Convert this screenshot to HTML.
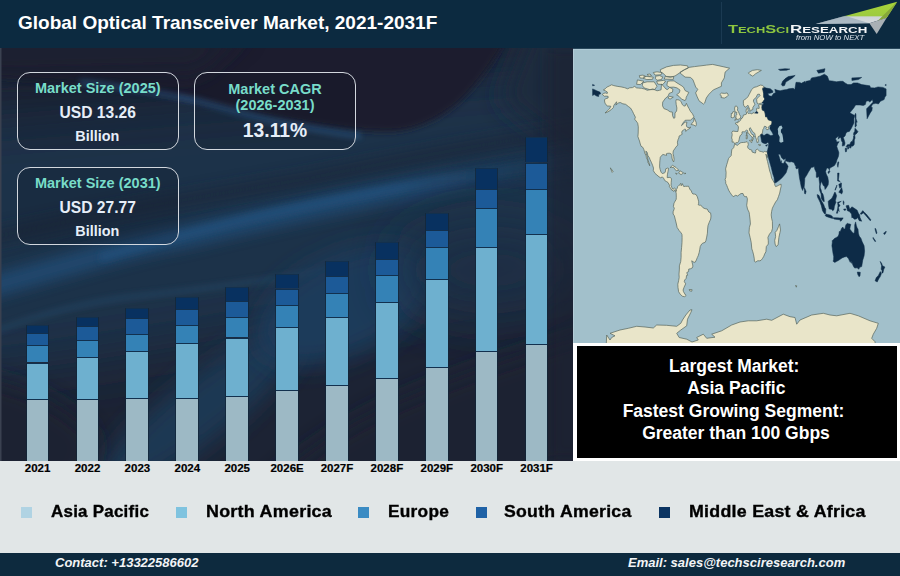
<!DOCTYPE html>
<html><head><meta charset="utf-8">
<style>
*{margin:0;padding:0;box-sizing:border-box}
html,body{width:900px;height:576px;overflow:hidden;background:#e1e6e7;font-family:"Liberation Sans",sans-serif}
#hdr{position:absolute;left:0;top:0;width:900px;height:48px;background:#0c2a40}
#title{position:absolute;left:18px;top:11.5px;font-size:19px;font-weight:bold;color:#fff;white-space:nowrap;letter-spacing:0}
#chart{position:absolute;left:0;top:48px;width:573px;height:413px;overflow:hidden}
.seg{position:absolute;width:21.8px;border-top:1px solid #12304e;box-shadow:-0.8px 0 0 rgba(18,38,58,0.9),0.8px 0 0 rgba(18,38,58,0.9)}
.seg.mea{background:#083160}
.seg.sa{background:#1c5a98}
.seg.eu{background:#3482b6}
.seg.na{background:#6eb0cf}
.seg.ap{background:#9db9c5}
.yr{position:absolute;top:461px;width:60px;text-align:center;font-size:11.5px;font-weight:bold;color:#000;line-height:14px;-webkit-text-stroke:0.2px #000}
.box{position:absolute;border:1.8px solid #d2d7de;border-radius:13px;background:rgba(18,22,36,0.22);text-align:center}
.box .t{color:#78dcc9;font-weight:bold;font-size:14.5px;position:absolute;left:0;right:0;white-space:nowrap}
.box .v{color:#e6eef8;font-weight:bold;font-size:15.6px;position:absolute;left:0;right:0;white-space:nowrap}
#map{position:absolute;left:573px;top:48px;width:327px;height:295px;background:#a2c0cb;overflow:hidden}
#info{position:absolute;left:573px;top:343px;width:327px;height:118px;background:#fff}
#infoin{position:absolute;left:4px;top:3px;width:320px;height:112px;background:#000;color:#fff;text-align:center;font-weight:bold;font-size:17.5px}
#infoin div{position:absolute;left:0;right:0;white-space:nowrap}
#leg{position:absolute;left:0;top:461px;width:900px;height:92px;background:#e1e6e7}
.sq{position:absolute;top:506.5px;width:11.2px;height:11.2px}
.lt{position:absolute;top:501.5px;font-size:16.6px;letter-spacing:0.25px;-webkit-text-stroke:0.35px #000;transform-origin:0 0;font-weight:bold;color:#000;white-space:nowrap;line-height:20px}
#ftr{position:absolute;left:0;top:553px;width:900px;height:23px;background:#0d2a3e}
.ft{position:absolute;top:555px;font-size:13px;font-weight:bold;font-style:italic;color:#f2f4f6;white-space:nowrap;line-height:16px}
</style></head><body>
<div id="hdr"><div id="title">Global Optical Transceiver Market, 2021-2031F</div></div>
<div id="leg"></div>
<div id="ftr"></div>
<div class="ft" style="left:55px">Contact: +13322586602</div>
<div class="ft" style="left:628px">Email: sales@techsciresearch.com</div>
<div id="chart"><svg width="573" height="413" viewBox="0 48 573 413" style="position:absolute;left:0;top:0">
<defs>
<filter id="b30" x="-50%" y="-50%" width="200%" height="200%"><feGaussianBlur stdDeviation="28"/></filter>
<filter id="b15" x="-50%" y="-50%" width="200%" height="200%"><feGaussianBlur stdDeviation="12"/></filter>
<filter id="b8" x="-50%" y="-50%" width="200%" height="200%"><feGaussianBlur stdDeviation="7"/></filter>
<filter id="b4" x="-50%" y="-50%" width="200%" height="200%"><feGaussianBlur stdDeviation="3"/></filter>
</defs>
<rect x="0" y="48" width="573" height="413" fill="#1c2334"/>
<!-- medium blue broad middle -->
<path d="M-60,120 L640,60 L640,260 C420,300 200,350 -60,380 Z" fill="#1d3149" filter="url(#b30)"/>
<!-- top dark wave -->
<path d="M-60,0 L528,0 C508,40 485,78 461,101 C440,120 415,131 390,132 C365,132 345,129 330,127 C260,118 200,100 150,94 C90,84 30,78 -60,76 Z" fill="#1b1f2d" filter="url(#b4)"/>
<path d="M-60,30 L250,30 L200,75 L-60,80 Z" fill="#1d2232" opacity="0.7" filter="url(#b15)"/>
<path d="M540,0 L640,0 L640,200 C600,180 540,130 500,100 Z" fill="#1c2a3c" filter="url(#b15)"/>
<!-- streak along wave boundary -->
<path d="M80,82 C130,88 170,95 198,101 C230,110 280,126 360,136" fill="none" stroke="#3069a0" stroke-width="3.5" opacity="0.95" filter="url(#b4)"/>
<!-- bright band -->
<linearGradient id="fadeR" x1="0" y1="0" x2="573" y2="0" gradientUnits="userSpaceOnUse"><stop offset="0" stop-color="#21507a"/><stop offset="0.7" stop-color="#21507a"/><stop offset="1" stop-color="#1d3048"/></linearGradient>
<path d="M-60,300 C40,275 110,250 180,238 C260,220 400,185 640,150" fill="none" stroke="url(#fadeR)" stroke-width="22" opacity="0.75" filter="url(#b8)"/>
<path d="M100,258 C140,246 180,236 230,223 C300,206 400,185 640,150" fill="none" stroke="url(#fadeR)" stroke-width="8" opacity="0.8" filter="url(#b4)"/>
<!-- lower thin arc -->
<path d="M-10,333 C30,318 80,303 130,297 C200,290 260,282 330,270" fill="none" stroke="#285070" stroke-width="4" opacity="0.6" filter="url(#b4)"/>
<!-- dark band between -->
<path d="M-60,250 C40,225 150,205 300,180 C400,160 500,140 640,120" fill="none" stroke="#1b2638" stroke-width="14" opacity="0.6" filter="url(#b8)"/>
<!-- lower light patch -->
<ellipse cx="200" cy="410" rx="130" ry="32" transform="rotate(-38 200 410)" fill="#1e3752" filter="url(#b15)"/>
<ellipse cx="345" cy="305" rx="95" ry="50" transform="rotate(-25 345 305)" fill="#1e3b5a" filter="url(#b15)"/>
<ellipse cx="490" cy="270" rx="90" ry="45" fill="#1d2e44" filter="url(#b30)"/>
<!-- bottom dark -->
<path d="M-60,520 L-60,370 C20,380 60,400 90,430 C110,470 60,520 -60,520 Z" fill="#1b2030" filter="url(#b15)"/>
<path d="M230,520 C280,470 330,430 400,400 C470,370 560,340 640,320 L640,520 Z" fill="#1b2030" filter="url(#b15)"/>
<!-- right edge dark -->
<rect x="548" y="48" width="60" height="413" fill="#1b2030" opacity="0.6" filter="url(#b8)"/>
<rect x="0" y="48" width="1.5" height="413" fill="#3a4150"/>
</svg>
</div>
<div class="seg mea" style="left:26.60px;top:324.7px;height:7.9px"></div>
<div class="seg sa" style="left:26.60px;top:332.6px;height:12.5px"></div>
<div class="seg eu" style="left:26.60px;top:345.1px;height:17.4px"></div>
<div class="seg na" style="left:26.60px;top:362.5px;height:36.6px"></div>
<div class="seg ap" style="left:26.60px;top:399.1px;height:61.9px"></div>
<div class="yr" style="left:7.6px">2021</div>
<div class="seg mea" style="left:76.50px;top:317.4px;height:8.3px"></div>
<div class="seg sa" style="left:76.50px;top:325.7px;height:14.6px"></div>
<div class="seg eu" style="left:76.50px;top:340.3px;height:16.9px"></div>
<div class="seg na" style="left:76.50px;top:357.2px;height:41.9px"></div>
<div class="seg ap" style="left:76.50px;top:399.1px;height:61.9px"></div>
<div class="yr" style="left:57.5px">2022</div>
<div class="seg mea" style="left:126.40px;top:308.2px;height:10.1px"></div>
<div class="seg sa" style="left:126.40px;top:318.3px;height:15.8px"></div>
<div class="seg eu" style="left:126.40px;top:334.1px;height:17.2px"></div>
<div class="seg na" style="left:126.40px;top:351.3px;height:46.5px"></div>
<div class="seg ap" style="left:126.40px;top:397.8px;height:63.2px"></div>
<div class="yr" style="left:107.4px">2023</div>
<div class="seg mea" style="left:176.30px;top:296.9px;height:12.4px"></div>
<div class="seg sa" style="left:176.30px;top:309.3px;height:15.8px"></div>
<div class="seg eu" style="left:176.30px;top:325.1px;height:18.1px"></div>
<div class="seg na" style="left:176.30px;top:343.2px;height:54.6px"></div>
<div class="seg ap" style="left:176.30px;top:397.8px;height:63.2px"></div>
<div class="yr" style="left:157.3px">2024</div>
<div class="seg mea" style="left:226.20px;top:287.2px;height:13.6px"></div>
<div class="seg sa" style="left:226.20px;top:300.8px;height:16.4px"></div>
<div class="seg eu" style="left:226.20px;top:317.2px;height:20.3px"></div>
<div class="seg na" style="left:226.20px;top:337.5px;height:58.0px"></div>
<div class="seg ap" style="left:226.20px;top:395.5px;height:65.5px"></div>
<div class="yr" style="left:207.2px">2025</div>
<div class="seg mea" style="left:276.10px;top:274.3px;height:14.2px"></div>
<div class="seg sa" style="left:276.10px;top:288.5px;height:16.8px"></div>
<div class="seg eu" style="left:276.10px;top:305.3px;height:21.5px"></div>
<div class="seg na" style="left:276.10px;top:326.8px;height:63.5px"></div>
<div class="seg ap" style="left:276.10px;top:390.3px;height:70.7px"></div>
<div class="yr" style="left:257.1px">2026E</div>
<div class="seg mea" style="left:326.00px;top:261.0px;height:15.4px"></div>
<div class="seg sa" style="left:326.00px;top:276.4px;height:16.5px"></div>
<div class="seg eu" style="left:326.00px;top:292.9px;height:24.2px"></div>
<div class="seg na" style="left:326.00px;top:317.1px;height:67.9px"></div>
<div class="seg ap" style="left:326.00px;top:385.0px;height:76.0px"></div>
<div class="yr" style="left:307.0px">2027F</div>
<div class="seg mea" style="left:375.90px;top:242.4px;height:16.2px"></div>
<div class="seg sa" style="left:375.90px;top:258.6px;height:16.6px"></div>
<div class="seg eu" style="left:375.90px;top:275.2px;height:27.1px"></div>
<div class="seg na" style="left:375.90px;top:302.3px;height:75.9px"></div>
<div class="seg ap" style="left:375.90px;top:378.2px;height:82.8px"></div>
<div class="yr" style="left:356.9px">2028F</div>
<div class="seg mea" style="left:425.80px;top:212.5px;height:17.2px"></div>
<div class="seg sa" style="left:425.80px;top:229.7px;height:17.6px"></div>
<div class="seg eu" style="left:425.80px;top:247.3px;height:32.1px"></div>
<div class="seg na" style="left:425.80px;top:279.4px;height:87.9px"></div>
<div class="seg ap" style="left:425.80px;top:367.3px;height:93.7px"></div>
<div class="yr" style="left:406.8px">2029F</div>
<div class="seg mea" style="left:475.70px;top:168.3px;height:20.3px"></div>
<div class="seg sa" style="left:475.70px;top:188.6px;height:19.8px"></div>
<div class="seg eu" style="left:475.70px;top:208.4px;height:38.9px"></div>
<div class="seg na" style="left:475.70px;top:247.3px;height:103.7px"></div>
<div class="seg ap" style="left:475.70px;top:351.0px;height:110.0px"></div>
<div class="yr" style="left:456.7px">2030F</div>
<div class="seg mea" style="left:525.60px;top:136.6px;height:25.9px"></div>
<div class="seg sa" style="left:525.60px;top:162.5px;height:26.9px"></div>
<div class="seg eu" style="left:525.60px;top:189.4px;height:44.9px"></div>
<div class="seg na" style="left:525.60px;top:234.3px;height:109.9px"></div>
<div class="seg ap" style="left:525.60px;top:344.2px;height:116.8px"></div>
<div class="yr" style="left:506.6px">2031F</div>
<div class="box" style="left:17px;top:71.5px;width:161.5px;height:78.5px">
 <div class="t" style="top:7px">Market Size (2025)</div>
 <div class="v" style="top:31.4px">USD 13.26</div>
 <div class="v" style="top:55.4px;font-size:14.4px;left:-1px">Billion</div>
</div>
<div class="box" style="left:194px;top:71.5px;width:162px;height:78px">
 <div class="t" style="top:8px">Market CAGR</div>
 <div class="t" style="top:24px">(2026-2031)</div>
 <div class="v" style="top:47.6px;font-size:19.3px">13.11%</div>
</div>
<div class="box" style="left:17px;top:166.5px;width:161.5px;height:78.5px">
 <div class="t" style="top:7px">Market Size (2031)</div>
 <div class="v" style="top:31.4px">USD 27.77</div>
 <div class="v" style="top:55.4px;font-size:14.4px;left:-1px">Billion</div>
</div>
<div id="map"><svg width="327" height="295" viewBox="0 0 327 295" style="position:absolute;left:0;top:0">
<path d="M29.3,46.4 30.6,45.4 32.2,44.9 34.3,45.4 34.4,44.1 32.6,42.9 30.4,41.9 32.2,40.8 33.9,39.1 36.7,37.8 38.5,36.8 40.8,37.6 44.1,38.3 48.1,38.9 51.4,39.6 54.7,40.8 56.7,39.8 59.5,39.6 61.6,38.4 63.6,39.9 65.7,40.1 68.5,40.3 71.8,41.1 74.2,42.3 77.5,41.6 79.9,40.9 84.0,42.8 86.5,42.3 88.1,41.8 88.5,35.9 91.3,39.1 93.0,41.1 94.6,41.6 96.6,39.4 99.9,41.1 99.5,44.1 96.2,45.4 95.0,48.3 92.6,50.1 89.7,54.1 89.5,57.8 90.9,60.6 94.2,61.8 97.1,63.8 99.3,64.0 99.5,67.5 100.7,70.3 101.9,69.8 102.0,65.0 103.6,63.0 103.9,60.0 103.2,56.6 102.9,53.3 103.2,51.6 106.4,52.0 108.1,53.8 109.3,56.6 110.7,57.8 112.1,58.1 113.4,55.3 114.6,58.0 116.0,60.5 117.4,63.3 119.5,65.8 120.9,68.8 119.5,70.5 117.4,72.2 114.2,72.2 112.1,72.3 109.7,75.3 108.5,77.7 109.3,77.0 112.1,74.0 114.0,74.3 113.4,76.3 113.5,78.2 114.2,79.2 116.6,79.8 117.4,78.8 117.4,80.0 114.6,81.7 112.7,83.4 112.5,81.2 111.7,81.2 109.1,83.0 108.7,85.0 109.3,86.2 108.1,86.9 106.0,88.2 105.9,90.0 105.2,91.2 104.4,94.2 104.8,97.0 102.8,99.2 101.9,100.6 100.3,102.9 100.0,105.6 100.7,108.4 101.1,111.4 100.7,113.9 99.7,112.7 99.0,110.1 98.8,107.6 97.9,105.7 96.2,105.2 94.2,105.4 93.4,105.7 93.6,107.4 92.6,107.2 89.9,106.4 89.1,107.1 87.3,109.2 86.9,112.6 86.7,115.9 86.6,118.9 87.1,121.3 88.0,124.1 89.3,125.6 91.3,124.9 92.2,124.3 92.6,122.1 92.7,120.9 94.6,120.1 95.6,120.4 95.0,123.4 94.4,126.8 94.2,129.6 96.2,129.4 97.6,129.6 98.5,130.9 98.2,134.3 98.1,137.6 98.7,139.3 99.9,141.3 101.5,140.1 103.2,141.6 103.3,143.0 102.8,143.5 101.5,141.8 100.7,143.5 99.9,142.6 98.7,142.1 97.5,140.0 96.4,138.8 96.5,137.3 95.0,134.5 93.4,133.5 91.8,132.6 90.5,130.1 89.3,128.9 87.7,129.8 86.0,128.8 84.0,127.1 82.0,125.4 80.3,122.6 80.5,120.1 79.6,117.3 78.3,114.2 77.1,111.7 76.3,109.6 74.9,107.6 74.1,104.2 72.8,103.1 73.2,105.9 74.4,108.4 75.0,112.6 76.3,115.6 76.7,117.8 75.9,115.9 75.0,114.6 74.9,112.6 73.4,109.6 73.2,107.9 71.9,105.4 71.3,103.1 70.8,101.4 69.7,99.2 68.0,98.2 67.0,95.0 66.5,93.0 65.4,90.0 64.9,88.5 65.2,85.0 65.3,78.8 64.7,75.2 64.4,74.7 61.7,71.2 62.4,69.2 60.4,65.3 59.5,63.3 57.5,60.0 55.5,58.6 52.6,56.3 49.8,55.8 47.3,54.5 45.3,55.0 42.8,57.1 43.8,53.8 42.0,55.5 40.8,57.5 40.4,59.5 38.3,61.6 35.9,63.3 33.9,64.3 32.0,65.0 34.3,62.8 36.3,61.1 37.9,58.3 35.9,58.0 34.3,58.1 32.4,55.8 31.7,54.1 31.5,51.6 33.0,50.6 35.1,50.0 35.1,48.3 33.0,48.1 31.5,48.3ZM103.2,141.5 104.2,140.3 104.7,138.5 105.9,137.3 106.7,137.1 107.7,135.3 108.2,136.3 108.1,137.8 109.1,136.6 109.3,135.6 110.7,138.5 112.5,138.3 114.2,138.3 115.4,138.1 116.2,139.6 116.9,141.6 118.3,142.6 118.8,144.5 119.9,146.0 121.5,146.1 123.1,146.6 124.0,148.2 124.4,149.0 125.2,151.8 125.6,153.2 125.7,155.2 125.2,156.8 126.8,157.3 127.6,157.0 130.1,159.8 132.1,160.7 134.2,161.0 135.8,164.0 137.6,164.9 138.0,168.0 137.7,171.0 136.2,174.4 135.0,177.5 134.6,181.1 134.4,185.2 133.7,189.1 132.9,192.7 132.1,194.4 129.9,195.1 128.6,196.1 127.2,198.6 126.7,201.9 126.2,204.4 125.2,207.8 124.4,209.4 123.4,211.9 122.3,214.1 121.1,214.4 119.9,213.6 118.7,212.8 119.5,216.1 119.9,218.1 119.4,219.8 117.4,220.8 115.7,221.1 115.6,223.6 113.8,224.5 114.6,227.3 113.5,227.5 113.2,230.3 111.7,232.0 111.3,233.7 112.7,235.8 111.1,239.2 110.1,242.0 110.5,243.7 112.5,247.0 113.2,247.5 111.5,248.7 109.3,248.2 107.2,246.2 105.6,243.7 105.0,239.5 104.8,236.2 105.6,232.8 106.2,229.5 106.0,226.1 106.4,221.1 106.4,217.8 107.7,213.6 108.1,209.4 108.1,204.4 108.6,199.4 109.0,194.4 109.1,189.4 109.0,186.6 108.1,184.9 106.0,182.4 104.1,179.4 103.4,176.0 102.4,171.9 101.3,167.7 100.1,166.0 100.1,163.8 100.9,161.8 101.3,160.2 100.4,158.5 101.0,155.2 101.5,154.3 102.1,153.2 103.2,151.3 103.3,149.3 103.2,145.1 102.8,144.0ZM107.2,25.2 112.1,29.1 117.4,29.4 119.9,31.6 121.5,35.8 122.7,39.1 124.8,41.3 122.6,44.9 124.2,48.8 126.0,52.8 130.5,56.1 131.7,55.0 133.3,50.0 135.8,46.4 140.3,41.9 148.4,38.3 148.4,34.9 151.3,29.9 152.1,24.1 156.6,20.2 150.1,18.7 139.5,16.4 133.7,17.1 121.5,18.6 115.8,19.4 111.7,21.6 107.2,24.1ZM97.1,32.9 101.1,32.9 104.0,34.9 108.1,37.4 110.5,39.1 112.1,42.6 115.8,44.4 114.2,47.5 113.2,49.3 113.0,51.0 112.1,52.6 108.5,51.1 106.0,48.3 103.6,46.8 106.4,44.6 107.0,42.1 104.0,39.9 100.7,39.1 96.6,39.3 93.8,37.4 94.6,33.3ZM92.2,28.4 100.7,28.7 100.3,31.4 91.3,31.1ZM69.7,34.9 74.2,33.8 81.2,33.8 84.0,38.3 81.6,41.6 76.7,41.6 71.0,39.9 69.3,37.4ZM64.4,31.9 71.0,33.3 67.3,36.6 63.6,36.3ZM71.0,28.2 80.3,29.1 79.5,31.3 73.8,31.6 70.6,30.4ZM83.6,33.3 90.5,32.4 92.6,33.3 89.7,36.6 84.8,36.1ZM96.2,48.3 100.3,49.1 97.1,51.1 95.0,50.0ZM39.1,122.1 40.1,123.4 39.2,124.4 37.3,119.9 37.9,120.4ZM116.2,241.5 119.1,241.7 118.7,243.3 116.6,242.8ZM118.0,76.5 120.7,73.3 121.1,69.8 123.1,74.2 123.4,76.7 122.7,78.2 120.7,77.0ZM97.1,119.6 99.5,117.3 103.2,119.6 105.9,122.3 103.2,122.8 100.7,119.6 98.3,119.3ZM105.6,125.1 107.0,122.8 110.6,124.9 108.1,126.6ZM102.5,125.3 104.2,125.6 103.6,126.3ZM111.6,125.1 112.9,125.4 111.7,125.9ZM161.8,95.9 161.1,94.5 160.3,93.9 159.1,94.2 159.2,91.4 158.6,90.0 159.2,86.7 158.8,84.4 159.8,83.0 163.1,83.5 164.9,83.5 165.4,80.0 165.4,78.8 164.5,77.2 162.4,75.8 162.7,74.8 165.1,74.7 165.1,73.0 166.5,73.3 167.7,72.2 167.9,70.8 169.2,70.2 170.0,68.7 170.4,67.0 172.1,66.7 173.3,66.2 173.6,65.0 173.0,63.3 173.4,60.8 175.0,59.6 174.9,61.6 175.2,62.5 174.5,64.2 175.3,65.5 177.4,65.0 178.2,66.0 181.0,64.5 181.5,65.2 183.5,63.6 183.6,62.5 183.6,60.5 185.1,60.0 185.9,60.8 186.3,58.6 185.5,58.3 185.9,57.0 186.6,56.6 189.2,56.6 188.9,59.6 189.4,62.1 191.6,63.1 192.3,66.0 192.6,68.8 194.1,68.7 195.3,71.8 197.5,72.5 199.1,73.3 198.8,76.2 197.5,77.3 196.1,78.2 194.9,79.8 196.1,80.2 195.3,81.5 193.7,81.7 192.9,80.2 193.7,79.2 192.0,78.2 191.4,78.3 190.6,80.5 189.8,81.7 189.7,83.0 189.2,85.9 187.8,86.4 187.6,87.9 185.9,88.0 185.1,88.9 184.8,90.9 185.5,92.5 184.7,95.0 183.9,94.2 183.6,91.7 182.7,89.7 182.2,87.5 181.8,85.4 179.4,83.4 178.6,81.7 177.8,80.7 177.6,79.8 176.4,80.3 176.5,82.2 177.4,83.4 178.2,85.5 179.4,86.7 179.5,86.0 181.4,88.9 180.4,88.4 179.8,89.5 180.3,90.9 179.4,92.7 179.1,92.0 179.2,89.2 177.8,87.9 176.3,86.2 174.9,84.4 174.5,82.5 173.5,81.9 172.5,82.9 171.7,84.0 170.4,83.7 169.0,83.9 169.0,85.9 168.2,86.9 167.2,87.5 166.4,90.0 166.1,91.7 165.7,93.2 164.6,94.7 162.8,94.7ZM177.0,63.5 178.2,62.1 179.8,61.6 179.9,59.3 181.8,56.6 181.4,55.3 180.4,53.3 180.6,51.6 183.1,49.5 184.5,46.4 186.3,46.1 187.0,47.6 185.1,49.5 183.6,51.1 183.9,54.1 184.7,55.8 185.1,56.1 186.7,55.5 189.0,55.0 190.4,53.3 192.0,51.0 190.8,49.1 190.7,45.8 190.3,43.3 189.8,40.9 189.6,39.9 191.5,39.4 189.6,37.4 187.4,37.1 183.5,38.8 181.0,39.4 178.6,41.6 177.4,44.1 176.1,46.6 174.9,48.8 173.3,50.5 170.4,52.5 170.4,55.8 170.9,57.8 172.1,59.3 173.7,58.3 175.0,57.3 175.5,58.3 176.0,59.8 176.8,61.6ZM161.7,72.3 163.5,71.5 165.5,71.2 167.5,70.3 167.7,68.3 166.6,66.7 166.0,65.0 165.1,63.1 164.3,62.0 164.9,60.0 163.7,58.1 162.3,58.1 161.6,60.0 161.7,62.1 162.4,64.2 163.9,64.3 163.6,65.8 163.9,66.8 162.5,67.8 163.1,68.7 162.1,69.7 163.8,70.2 162.7,70.7ZM161.5,68.8 161.3,66.7 161.9,64.8 161.3,63.6 159.8,63.8 159.3,65.5 158.2,65.5 158.4,67.0 158.0,69.3 159.4,69.8ZM146.8,46.6 148.4,45.1 151.7,45.4 154.1,44.9 155.4,47.1 154.1,48.6 151.3,50.1 148.0,49.5 148.4,47.8ZM175.3,24.9 179.4,22.4 184.3,21.7 188.4,22.4 182.7,25.7 179.8,28.2 177.0,26.6ZM176.5,92.4 179.1,92.0 178.7,94.7 176.5,92.9ZM173.0,87.4 174.4,87.5 174.2,90.7 173.2,90.9 173.3,88.4ZM173.4,84.4 174.1,84.2 174.1,86.5 173.5,86.7ZM185.5,96.5 187.8,97.0 186.3,97.7ZM161.9,96.0 164.3,97.4 165.5,96.4 167.2,95.0 168.8,94.5 170.4,94.5 172.5,94.2 174.1,93.7 174.9,94.5 175.3,96.7 174.5,98.9 175.3,100.4 176.1,101.2 178.8,102.1 179.0,103.9 181.0,104.7 182.4,105.1 182.8,103.4 182.7,102.1 184.3,101.1 185.5,102.2 186.7,103.2 188.8,103.7 190.4,104.2 191.6,103.4 192.6,103.7 194.2,103.7 194.8,106.7 194.3,109.6 192.9,106.1 193.8,110.9 194.5,113.4 195.4,117.3 196.8,123.4 197.8,125.9 198.6,130.1 200.0,132.6 201.6,135.3 201.7,136.8 202.6,138.6 204.3,138.0 205.9,137.1 208.1,136.1 208.1,138.5 207.5,141.0 206.7,145.1 205.5,148.5 204.3,151.8 202.6,154.0 200.6,157.7 199.4,160.2 198.6,163.5 198.2,166.9 198.6,170.2 199.4,173.5 199.5,180.2 198.6,183.6 196.5,186.1 194.9,189.4 195.3,192.7 195.3,196.1 193.3,198.6 193.1,201.1 192.9,203.8 191.6,206.1 190.8,208.3 189.6,210.3 188.0,212.4 186.7,212.8 184.7,212.8 182.7,214.1 181.4,213.3 181.3,210.8 180.6,206.9 179.8,203.8 178.8,200.8 178.2,194.4 177.1,189.4 176.0,184.9 176.4,179.4 177.4,176.0 177.1,171.9 176.4,166.2 176.1,164.3 174.5,161.0 173.7,157.2 174.1,154.3 174.4,150.8 173.5,148.5 172.1,148.7 170.8,147.8 170.0,145.5 168.0,145.5 166.4,146.6 164.7,148.0 162.7,147.3 160.2,148.7 158.6,146.8 157.0,144.5 155.6,142.1 154.5,139.3 153.7,137.3 152.7,135.3 152.7,133.5 152.1,131.5 152.9,129.3 153.1,124.3 152.6,120.9 153.7,116.8 154.5,114.2 155.5,110.6 156.6,109.2 158.2,107.6 158.4,105.1 158.8,101.7 160.7,99.6 161.5,96.7ZM206.6,175.9 207.5,181.9 207.0,184.4 205.9,189.4 205.1,196.9 203.2,198.6 202.1,196.1 201.7,192.4 202.6,188.6 202.2,184.4 203.9,182.4 205.5,178.5ZM33.7,287.0 37.0,292.0 38.7,289.5 42.0,287.8 37.0,285.3 47.0,282.0 55.3,280.3 63.7,278.3 72.0,279.0 80.3,280.0 83.7,277.0 93.7,277.3 103.7,278.3 107.8,275.3 109.5,272.0 112.8,267.0 117.0,262.0 119.0,261.7 117.8,264.5 114.5,271.2 113.7,277.8 107.8,282.0 103.7,285.3 106.2,289.5 113.7,291.2 119.0,294.0 125.3,292.0 123.7,289.5 130.3,286.2 133.7,290.3 142.0,289.2 138.7,286.2 148.7,282.8 158.7,277.0 167.0,274.0 175.3,272.8 183.7,272.8 193.7,271.2 198.7,272.3 210.3,266.2 217.0,268.7 222.0,269.5 223.7,276.2 227.0,272.0 238.7,267.0 250.3,265.3 257.0,267.0 263.7,267.8 277.0,265.3 285.3,267.8 297.0,272.8 305.3,275.3 303.7,280.3 300.3,286.2 298.7,290.3 302.0,293.7 303.0,302.0 33.0,302.0ZM87.3,21.7 93.5,18.9 100.5,17.4 107.5,17.0 114.5,17.8 115.3,20.1 111.4,21.7 106.8,24.8 102.1,27.9 97.4,29.4 93.5,28.7 90.4,25.6 87.7,24.0ZM82.7,28.2 86.5,27.6 89.7,28.8 88.5,31.5 84.0,32.3 82.5,30.5ZM80.3,24.5 84.0,23.8 89.0,24.6 88.0,26.8 82.0,27.1ZM66.3,27.6 70.0,27.1 72.6,28.5 71.0,30.2 67.0,30.0ZM74.0,26.5 77.0,26.0 78.5,27.5 76.0,28.3ZM222.5,237.5 223.8,237.8 223.3,239.2Z" fill="#e9e5c9" stroke="#56645c" stroke-width="0.7" stroke-linejoin="round"/>
<path d="M197.5,77.3 196.9,80.0 197.2,81.4 198.6,83.4 200.3,86.5 199.0,87.5 197.3,87.5 195.7,86.4 194.9,85.9 193.3,86.0 191.6,87.2 190.0,87.2 189.2,86.0 187.8,86.4 187.7,88.2 188.0,90.0 188.4,92.5 188.8,94.2 189.6,94.7 191.2,95.4 192.9,95.7 194.5,94.5 195.7,95.0 195.6,96.7 195.3,99.2 194.7,101.7 194.2,103.7 194.8,106.7 195.3,109.2 196.5,113.4 198.2,119.3 199.8,125.9 201.0,129.3 201.7,135.0 203.1,134.6 205.9,132.6 208.9,129.9 211.6,126.8 213.2,124.6 215.1,118.4 214.1,116.6 212.3,114.4 212.3,112.1 211.6,113.7 210.4,115.6 208.4,115.1 208.4,112.6 207.5,114.2 207.1,111.7 205.5,106.7 205.9,105.9 207.5,106.7 208.4,109.6 210.8,111.7 212.3,110.6 213.2,113.1 216.5,114.1 218.5,113.7 221.0,114.6 221.8,116.4 222.2,117.6 223.4,118.4 222.6,118.8 223.4,120.9 225.5,120.1 225.7,124.3 226.5,130.1 227.4,134.6 228.3,139.3 229.6,142.5 230.1,141.0 231.2,138.8 231.6,134.3 231.8,130.1 233.5,127.6 235.3,124.3 237.3,120.9 238.5,119.3 239.7,119.3 241.2,118.6 241.8,121.3 243.3,124.6 243.3,129.3 244.2,129.6 245.9,128.4 246.1,131.8 246.7,136.0 246.5,139.3 246.7,142.6 248.1,146.0 248.3,150.2 249.1,151.8 250.8,153.8 251.3,153.5 250.8,149.3 249.9,146.0 248.7,144.5 248.1,141.8 247.3,140.1 247.2,138.0 247.9,135.1 248.3,133.5 249.1,134.8 250.3,137.6 251.6,138.5 252.0,141.5 253.2,140.1 255.2,136.8 255.5,133.5 254.8,129.3 253.2,125.9 252.6,123.4 253.6,120.4 254.8,119.9 256.1,120.9 256.2,122.1 256.9,120.1 258.9,118.9 261.4,117.6 263.0,115.1 264.0,111.7 265.4,108.4 265.8,105.9 265.8,104.2 264.6,100.9 263.8,98.4 264.6,95.9 266.2,93.7 263.8,93.9 263.0,91.7 262.3,90.9 263.8,89.4 265.4,87.9 265.2,91.2 266.7,89.7 267.9,89.5 268.5,93.0 269.5,94.2 269.3,98.1 271.1,97.6 271.5,97.4 272.0,95.0 271.1,91.7 270.3,89.5 272.1,87.9 272.9,85.4 273.9,84.0 276.4,83.4 278.5,80.0 280.9,75.0 280.9,70.8 281.7,67.5 278.5,65.8 276.8,64.8 278.1,63.3 280.9,59.8 282.6,57.1 283.2,57.0 287.0,57.0 290.3,57.5 292.3,56.6 293.2,53.3 295.2,52.8 296.8,54.1 299.3,51.6 300.1,54.1 296.8,57.5 293.6,60.8 294.1,70.8 295.7,67.8 297.2,65.0 298.9,62.5 299.3,59.5 298.0,59.1 299.7,56.1 302.9,55.3 305.4,56.0 307.4,53.3 311.1,51.6 311.9,49.1 313.1,47.5 313.1,40.9 309.9,39.4 305.0,38.9 301.7,39.9 297.6,39.8 296.8,37.8 293.6,37.3 288.7,36.6 284.6,34.9 280.5,34.9 278.1,36.6 274.8,36.6 272.0,34.9 269.9,33.3 267.1,33.3 263.4,33.8 258.9,32.9 256.1,32.8 254.4,28.2 251.4,26.2 247.1,28.2 243.8,28.9 238.5,29.9 237.3,32.4 233.2,33.3 232.0,34.9 232.2,33.3 228.3,35.3 226.7,34.4 223.0,34.3 221.8,41.6 220.2,40.3 215.7,40.8 213.7,41.6 210.4,41.9 207.1,42.8 203.9,42.1 201.8,41.3 202.6,44.8 200.6,45.4 198.6,48.3 196.1,47.8 194.7,45.4 196.9,45.3 199.8,44.4 199.8,42.9 197.3,40.8 193.3,40.1 191.5,39.4 189.6,40.8 190.2,43.3 190.7,45.8 190.7,49.1 191.9,51.0 189.2,55.0 191.2,55.8 189.3,56.8 188.9,59.6 189.4,62.1 191.6,63.1 192.3,66.0 192.6,68.8 194.1,68.7 195.3,71.8 197.5,72.5 199.1,73.3 198.8,76.2ZM19.6,47.5 21.2,46.6 23.7,48.1 25.7,48.5 25.7,46.6 27.7,45.8 26.9,44.1 23.7,42.8 22.0,41.9 19.6,40.9ZM19.6,37.8 21.6,37.3 19.6,36.4ZM182.3,65.2 185.0,65.2 184.7,64.0 183.6,63.6 182.6,64.3ZM280.5,86.7 281.5,87.0 283.2,85.9 285.0,83.7 284.0,82.4 282.0,80.2 281.7,83.7 280.8,84.5ZM281.7,86.9 282.1,90.0 281.3,92.0 281.3,95.0 281.2,96.4 280.3,97.7 279.3,98.2 278.1,98.2 277.9,100.1 276.6,99.6 276.4,98.1 274.8,98.7 273.6,99.2 273.2,98.6 274.4,96.7 276.8,96.4 278.0,93.7 279.3,93.4 280.5,90.0 280.5,87.9 281.2,87.2ZM272.4,100.1 273.8,100.4 273.5,103.6 272.5,103.9 272.2,101.4ZM274.4,99.4 276.2,98.9 275.8,100.6 274.8,101.2ZM282.1,79.2 283.4,78.0 283.1,74.2 284.2,74.2 283.0,70.8 283.0,66.7 282.6,65.3 281.9,66.7 282.3,70.8 282.1,75.8ZM265.0,113.7 265.8,114.2 264.9,119.3 264.3,116.8ZM254.9,123.9 256.5,122.4 256.9,123.4 255.6,125.6ZM231.4,139.6 233.1,143.5 232.4,146.0 231.6,145.6 231.4,142.6ZM264.6,125.1 266.1,125.1 265.8,128.4 265.4,131.8 267.5,134.3 266.7,133.5 264.6,133.0 264.6,129.3ZM265.8,144.3 268.7,139.6 269.6,143.8 268.7,146.0 267.5,145.1ZM265.8,136.3 268.5,135.1 268.3,139.3 266.7,140.1ZM261.9,142.1 263.9,137.1 263.6,138.8 262.4,142.1ZM255.2,153.5 255.6,157.7 256.2,161.0 258.5,161.3 259.7,162.7 260.9,161.8 261.4,158.5 262.2,156.0 263.0,154.3 262.4,152.7 263.6,147.7 262.4,144.5 261.6,144.3 260.5,147.1 258.9,150.2 257.1,151.8 255.7,152.7ZM244.1,146.6 245.9,147.3 247.9,151.8 250.8,156.8 251.6,159.3 252.8,161.0 252.6,165.7 251.6,165.9 249.5,162.7 248.3,157.7 247.1,154.3 245.9,151.8 244.6,149.3ZM252.1,167.4 253.2,166.0 254.8,166.5 256.9,166.9 258.3,167.5 259.7,168.9 259.7,170.5 256.9,169.7 254.8,169.0 253.2,168.4ZM260.1,169.7 263.4,169.7 266.7,169.9 269.9,169.9 268.3,171.9 264.2,171.5 260.9,171.0ZM267.5,171.4 270.2,170.0 268.3,172.7 267.1,173.2ZM263.4,165.2 264.6,161.0 265.0,157.7 264.6,154.3 268.3,153.3 265.4,155.2 267.1,157.7 265.4,159.3 266.2,163.5 265.0,161.8 264.6,165.2ZM270.3,152.7 271.1,154.3 270.7,156.8 270.2,155.2ZM270.7,161.0 273.0,161.0 272.4,162.3 271.0,162.2ZM273.2,157.7 275.6,157.3 276.8,161.3 278.9,158.8 281.3,160.3 284.2,162.3 285.4,165.2 286.6,166.9 287.0,169.4 288.7,173.2 286.2,172.7 284.6,169.4 283.4,171.0 281.3,171.2 279.7,169.4 278.9,170.0 278.5,166.0 276.4,163.5 274.4,162.7 274.0,160.7 273.2,158.5ZM287.4,165.2 290.3,163.0 289.9,165.2 287.9,166.4ZM259.2,192.4 259.7,192.4 261.4,190.6 263.4,189.4 265.0,188.6 266.0,186.1 266.2,183.6 267.5,183.2 268.5,180.4 269.8,179.0 270.9,181.1 272.0,180.9 272.6,177.7 273.2,176.4 274.4,175.2 275.2,175.7 276.8,176.0 277.9,176.5 277.3,178.2 276.8,181.1 278.5,183.2 280.1,185.2 281.2,185.1 281.7,181.1 281.7,176.9 282.6,173.9 283.4,177.7 284.2,179.9 285.0,181.1 285.4,185.2 286.2,188.1 287.9,190.2 289.1,193.6 291.1,197.8 291.6,203.1 291.1,207.8 289.7,212.4 288.7,218.6 287.0,219.1 285.7,221.3 284.2,219.8 281.7,220.1 280.4,218.3 279.3,215.6 278.9,213.6 278.5,215.3 278.1,212.8 277.3,214.4 276.8,213.6 275.6,210.8 273.6,208.6 271.5,208.9 269.1,209.9 267.5,211.1 265.4,212.4 263.4,213.6 261.8,214.4 260.1,213.3 260.6,211.6 260.7,208.6 260.0,205.3 259.3,200.3 258.9,197.8 259.3,194.4ZM284.3,224.0 287.3,224.3 287.0,227.8 286.1,228.8 284.8,226.6ZM307.2,213.4 308.6,215.3 309.5,217.8 311.9,219.0 310.7,221.6 309.9,225.0 308.9,225.0 309.1,222.0 308.1,221.5 308.6,217.8ZM307.3,223.6 308.4,225.6 307.3,228.6 305.8,230.8 304.2,234.0 302.1,232.8 303.3,229.5 305.4,227.5ZM208.4,36.6 209.6,33.3 212.0,30.8 215.3,28.6 222.2,27.4 219.4,29.9 212.8,34.1 211.6,37.4 209.6,38.1ZM243.8,22.4 252.0,20.7 251.2,24.1 245.5,25.2ZM278.9,29.9 288.7,29.4 285.4,31.6 278.9,32.4ZM311.9,37.1 313.1,36.4 313.1,37.6ZM205.5,21.4 212.0,20.7 216.9,21.1 213.7,22.2 207.1,22.4ZM192.7,97.4 194.5,96.5 194.0,98.1 192.9,98.1ZM289.5,162.7 293.2,166.0 298.0,171.9 297.2,172.7 292.3,166.9 289.1,163.5ZM300.1,189.4 302.7,193.2 302.1,193.7 299.9,190.2ZM302.1,180.2 302.9,181.1 304.0,185.2 303.3,185.7 302.2,181.9ZM310.8,184.9 312.0,184.4 313.1,183.1 313.1,184.2 311.8,186.4 310.9,186.1Z" fill="#0d2b47" stroke="#0d2b47" stroke-width="0.5" stroke-linejoin="round"/>
<path d="M204.7,80.9 206.3,78.3 208.4,77.5 209.6,80.0 207.9,81.7 207.9,84.2 209.2,85.9 209.6,87.5 210.0,90.0 210.4,93.7 207.9,94.7 206.3,93.4 206.7,88.9 205.1,85.9 205.1,83.4Z" fill="#a2c0cb"/>
<rect x="0" y="0.8" width="327" height="1" fill="#b4ccd7"/><rect x="0" y="0" width="1" height="295" fill="#b4ccd7"/><rect x="0" y="0" width="327" height="0.8" fill="#0c2a40"/>
</svg></div>
<div id="info"><div id="infoin">
 <div style="top:9.5px;left:-5.5px">Largest Market:</div>
 <div style="top:32px;left:-1.5px">Asia Pacific</div>
 <div style="top:54.5px;left:-7px">Fastest Growing Segment:</div>
 <div style="top:77px;left:-2px">Greater than 100 Gbps</div>
</div></div>
<div class="sq" style="left:21px;background:#b0d3e3"></div><div class="lt" style="left:51.3px;transform:scaleX(1.0198)">Asia Pacific</div>
<div class="sq" style="left:176px;background:#7fc3df"></div><div class="lt" style="left:205.62px;transform:scaleX(1.0776)">North America</div>
<div class="sq" style="left:358px;background:#3a8bc3"></div><div class="lt" style="left:388.26px;transform:scaleX(1.0421)">Europe</div>
<div class="sq" style="left:476px;background:#1f62a6"></div><div class="lt" style="left:504.44px;transform:scaleX(1.0647)">South America</div>
<div class="sq" style="left:659px;background:#0b3462"></div><div class="lt" style="left:688.53px;transform:scaleX(1.072)">Middle East &amp; Africa</div>
<div style="position:absolute;left:721px;top:2px;width:1px;height:42px;background:#1b3a52"></div>
<svg width="110" height="40" viewBox="800 0 110 40" style="position:absolute;left:800px;top:0">
<defs>
<linearGradient id="lg1" x1="0" y1="0" x2="0" y2="1">
<stop offset="0" stop-color="#a8d43a"/><stop offset="0.64" stop-color="#9dcb3e"/><stop offset="0.68" stop-color="#cdd3d6"/><stop offset="1" stop-color="#d8dcdf"/>
</linearGradient>
<linearGradient id="lg2" x1="0" y1="0" x2="1" y2="0">
<stop offset="0" stop-color="#0c2a40" stop-opacity="0"/><stop offset="0.35" stop-color="#ffffff" stop-opacity="0.35"/><stop offset="1" stop-color="#ffffff" stop-opacity="0"/>
</linearGradient>
</defs>
<path d="M897.2,1.7 L815.6,23.9 L869.4,23.3 L886.7,17.8 Z" fill="url(#lg1)"/>
<path d="M815.6,23.9 L845,15.8 L869.4,23.3 Z" fill="#8aa0b0" opacity="0.55"/>
<path d="M869.4,23.3 L876.7,33.9 L886.7,17.8 Z" fill="#a9b0b5"/>
<path d="M897.2,1.7 L886.7,17.8 L878,20.5 Z" fill="#86a83a"/>
</svg>
<div style="position:absolute;left:727.5px;top:21.5px;height:14px;white-space:nowrap;font-weight:bold;color:#8dc63f;font-size:10.9px;line-height:14px;transform-origin:0 0;transform:scaleX(1.5)"><span>T</span><span style="font-size:8.6px">ECH</span><span>S</span><span style="font-size:8.6px">CI</span></div>
<div style="position:absolute;left:790px;top:21.5px;height:14px;white-space:nowrap;font-weight:bold;color:#f4f6f8;font-size:10.9px;line-height:14px;transform-origin:0 0;transform:scaleX(1.55)"><span>R</span><span style="font-size:8.6px">ESEARCH</span></div>
<div style="position:absolute;left:795.5px;top:33.5px;white-space:nowrap;font-style:italic;color:#dfe6ec;font-size:6.6px;line-height:8px;transform-origin:0 0;transform:scaleX(1.18)">from NOW to NEXT</div>

</body></html>
